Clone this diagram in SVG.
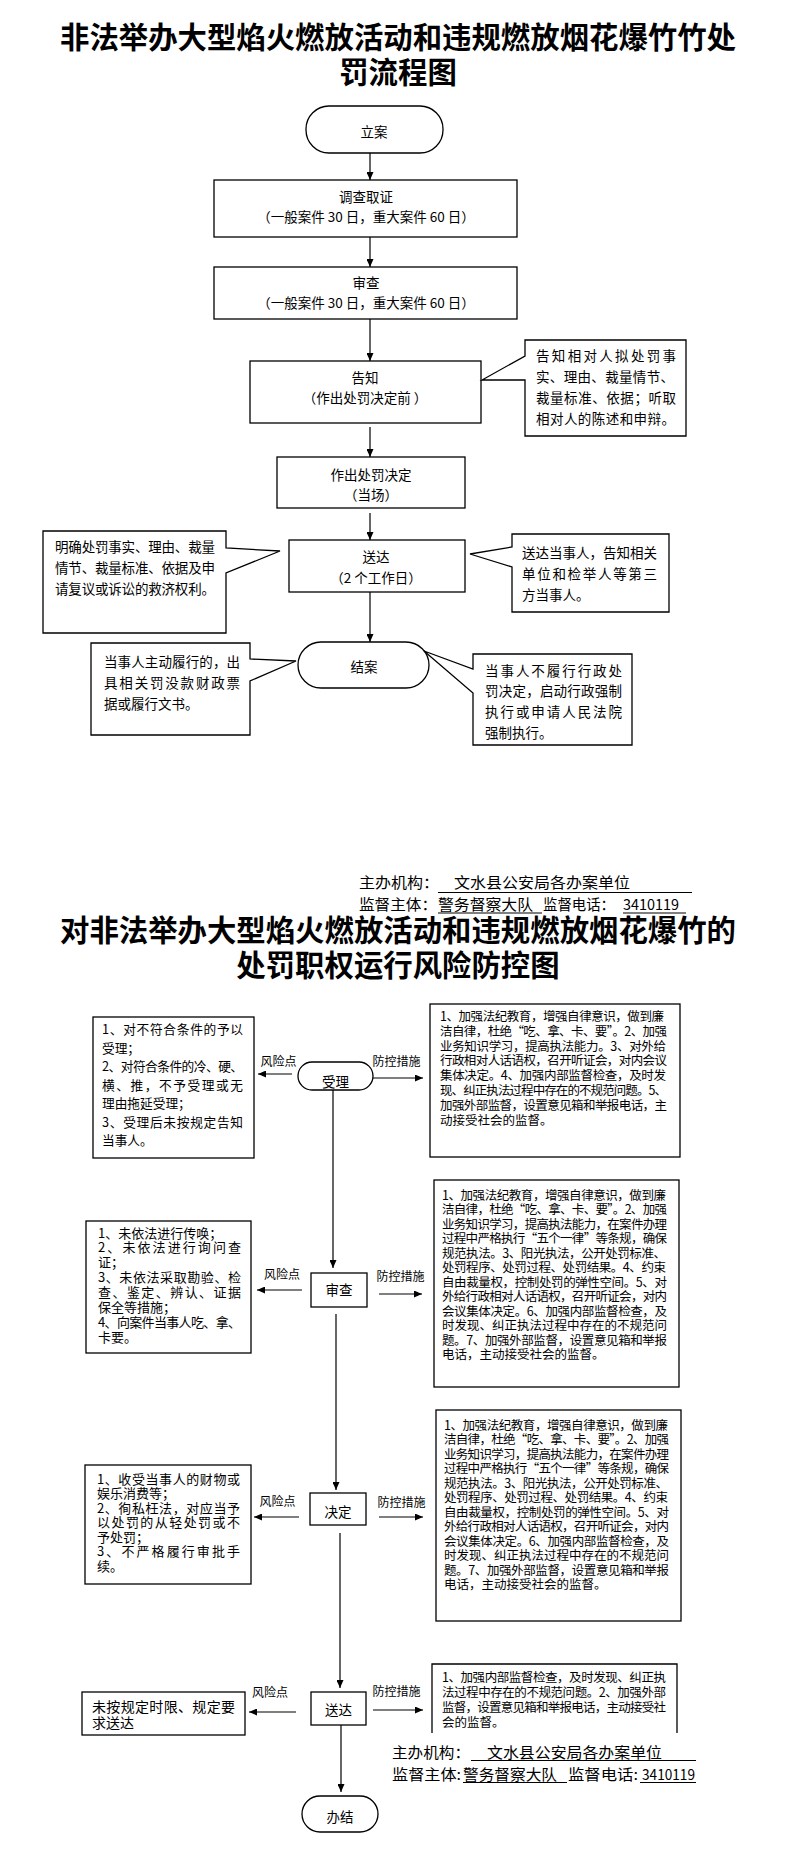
<svg xmlns="http://www.w3.org/2000/svg" width="793" height="1854" viewBox="0 0 793 1854">
<defs>
<style>
text{font-family:"Noto Sans CJK SC","Noto Sans",sans-serif;fill:#000}
.title{font-size:29.4px;font-weight:700;text-anchor:middle}
.m{font-size:13.5px;text-anchor:middle}
.c{font-size:13.5px}
.c2{font-size:12.7px}
.s{font-size:12.5px}
.l13{font-size:13px}
.lbl{font-size:12px;text-anchor:middle}
.f{font-size:15px}
.box{fill:#fff;stroke:#000;stroke-width:1.3}
.ln{stroke:#000;stroke-width:1.2;fill:none}
.ul{stroke:#000;stroke-width:1.2}
</style>
<marker id="ah" markerWidth="8" markerHeight="7" refX="8" refY="3.5" orient="auto" markerUnits="userSpaceOnUse">
<path d="M0,0 L8,3.5 L0,7 Z" fill="#000"/>
</marker>
</defs>
<rect width="793" height="1854" fill="#fff"/>

<g id="title1">
<text class="title" x="398" y="48">非法举办大型焰火燃放活动和违规燃放烟花爆竹竹处</text>
<text class="title" x="398" y="83">罚流程图</text>
</g>

<g id="connectors">
<line class="ln" x1="370" y1="153" x2="370" y2="180" marker-end="url(#ah)"/>
<line class="ln" x1="370" y1="237" x2="370" y2="267" marker-end="url(#ah)"/>
<line class="ln" x1="370" y1="319" x2="370" y2="361" marker-end="url(#ah)"/>
<line class="ln" x1="370" y1="427" x2="370" y2="457" marker-end="url(#ah)"/>
<line class="ln" x1="370" y1="513" x2="370" y2="540" marker-end="url(#ah)"/>
<line class="ln" x1="370" y1="592" x2="370" y2="642" marker-end="url(#ah)"/>

<line class="ln" x1="333" y1="1090" x2="333" y2="1268" marker-end="url(#ah)"/>
<line class="ln" x1="336" y1="1314" x2="336" y2="1490" marker-end="url(#ah)"/>
<line class="ln" x1="340" y1="1533" x2="340" y2="1688" marker-end="url(#ah)"/>
<line class="ln" x1="341" y1="1725" x2="341" y2="1792" marker-end="url(#ah)"/>

<line class="ln" x1="292" y1="1074" x2="258" y2="1074" marker-end="url(#ah)"/>
<line class="ln" x1="373" y1="1078" x2="423" y2="1078" marker-end="url(#ah)"/>
<line class="ln" x1="302" y1="1290" x2="257" y2="1290" marker-end="url(#ah)"/>
<line class="ln" x1="379" y1="1294" x2="422" y2="1294" marker-end="url(#ah)"/>
<line class="ln" x1="299" y1="1517" x2="254" y2="1517" marker-end="url(#ah)"/>
<line class="ln" x1="379" y1="1517" x2="423" y2="1517" marker-end="url(#ah)"/>
<line class="ln" x1="296" y1="1712" x2="249" y2="1712" marker-end="url(#ah)"/>
<line class="ln" x1="373" y1="1710" x2="423" y2="1710" marker-end="url(#ah)"/>
</g>

<g id="n-lian">
<rect class="box" x="306" y="106" width="137" height="47" rx="23" ry="23"/>
<text class="m" x="374" y="137">立案</text>
</g>
<g id="n-diaocha">
<rect class="box" x="214" y="180" width="303" height="57"/>
<text class="m" x="366" y="202">调查取证</text>
<text class="m" x="366" y="222">（一般案件 30 日，重大案件 60 日）</text>
</g>
<g id="n-shencha1">
<rect class="box" x="214" y="267" width="303" height="52"/>
<text class="m" x="366" y="288">审查</text>
<text class="m" x="366" y="308">（一般案件 30 日，重大案件 60 日）</text>
</g>
<g id="n-gaozhi">
<rect class="box" x="250" y="361" width="231" height="62"/>
<text class="m" x="365" y="383">告知</text>
<text class="m" x="365" y="403">（作出处罚决定前 ）</text>
</g>
<g id="c-gaozhi">
<path class="box" d="M525,340 H686 V436 H525 V380 L482,380 L525,356 Z"/>
<text class="c" x="536" y="361" textLength="140" lengthAdjust="spacing">告知相对人拟处罚事</text>
<text class="c" x="536" y="382" textLength="138" lengthAdjust="spacing">实、理由、裁量情节、</text>
<text class="c" x="536" y="403" textLength="140" lengthAdjust="spacing">裁量标准、依据；听取</text>
<text class="c" x="536" y="424" textLength="139" lengthAdjust="spacing">相对人的陈述和申辩。</text>
</g>
<g id="n-zuochu">
<rect class="box" x="277" y="457" width="188" height="51"/>
<text class="m" x="371" y="480">作出处罚决定</text>
<text class="m" x="371" y="500">（当场）</text>
</g>
<g id="n-songda1">
<rect class="box" x="289" y="540" width="176" height="52"/>
<text class="m" x="376" y="562">送达</text>
<text class="m" x="376" y="583">（2 个工作日）</text>
</g>
<g id="c-songda-left">
<path class="box" d="M43,531 H226 V548 L280,551 L226,573 V633 H43 Z"/>
<text class="c" x="55" y="552" textLength="160" lengthAdjust="spacing">明确处罚事实、理由、裁量</text>
<text class="c" x="55" y="573" textLength="160" lengthAdjust="spacing">情节、裁量标准、依据及申</text>
<text class="c" x="55" y="594" textLength="160" lengthAdjust="spacing">请复议或诉讼的救济权利。</text>
</g>
<g id="c-songda-right">
<path class="box" d="M512,534 H669 V612 H512 V567 L470,554 L512,547 Z"/>
<text class="c" x="522" y="558" textLength="135" lengthAdjust="spacing">送达当事人，告知相关</text>
<text class="c" x="522" y="579" textLength="135" lengthAdjust="spacing">单位和检举人等第三</text>
<text class="c" x="522" y="600">方当事人。</text>
</g>
<g id="n-jiean">
<rect class="box" x="298" y="642" width="131" height="46" rx="23" ry="23"/>
<text class="m" x="364" y="672">结案</text>
</g>
<g id="c-jiean-left">
<path class="box" d="M91,643 H250 V659 L296,661 L250,681 V735 H91 Z"/>
<text class="c" x="104" y="667" textLength="136" lengthAdjust="spacing">当事人主动履行的，出</text>
<text class="c" x="104" y="688" textLength="136" lengthAdjust="spacing">具相关罚没款财政票</text>
<text class="c" x="104" y="709">据或履行文书。</text>
</g>
<g id="c-jiean-right">
<path class="box" d="M473,654 H632 V745 H473 V693 L424,651 L473,669 Z"/>
<text class="c" x="485" y="676" textLength="137" lengthAdjust="spacing">当事人不履行行政处</text>
<text class="c" x="485" y="696" textLength="137" lengthAdjust="spacing">罚决定，启动行政强制</text>
<text class="c" x="485" y="717" textLength="137" lengthAdjust="spacing">执行或申请人民法院</text>
<text class="c" x="485" y="738">强制执行。</text>
</g>

<g id="footer1">
<text class="f" x="359" y="888" textLength="80" lengthAdjust="spacingAndGlyphs">主办机构：</text>
<text class="f" x="454" y="888" textLength="176" lengthAdjust="spacingAndGlyphs">文水县公安局各办案单位</text>
<line class="ul" x1="438" y1="892.5" x2="692" y2="892.5"/>
<text class="f" x="359" y="910" textLength="78" lengthAdjust="spacingAndGlyphs">监督主体：</text>
<text class="f" x="438" y="910" textLength="95" lengthAdjust="spacingAndGlyphs">警务督察大队</text>
<line class="ul" x1="438" y1="913" x2="542" y2="913"/>
<text class="f" x="543" y="910" textLength="72" lengthAdjust="spacingAndGlyphs">监督电话：</text>
<text class="f" x="623" y="910" textLength="56" lengthAdjust="spacingAndGlyphs">3410119</text>
<line class="ul" x1="623" y1="913" x2="686" y2="913"/>
</g>

<g id="title2">
<text class="title" x="398" y="941">对非法举办大型焰火燃放活动和违规燃放烟花爆竹的</text>
<text class="title" x="398" y="976">处罚职权运行风险防控图</text>
</g>

<g id="n-shouli">
<rect class="box" x="298" y="1062" width="75" height="28" rx="14" ry="14"/>
<text class="m" x="335.5" y="1087">受理</text>
</g>
<g id="lbl-shouli">
<text class="lbl" x="278.5" y="1066">风险点</text>
<text class="lbl" x="396.5" y="1066">防控措施</text>
</g>
<g id="r-shouli">
<rect class="box" x="93" y="1017" width="161" height="141"/>
<text class="c2" x="102" y="1034" textLength="141" lengthAdjust="spacing">1、对不符合条件的予以</text>
<text class="c2" x="102" y="1052.5">受理；</text>
<text class="c2" x="102" y="1071" textLength="141" lengthAdjust="spacing">2、对符合条件的冷、硬、</text>
<text class="c2" x="102" y="1089.5" textLength="141" lengthAdjust="spacing">横、推，不予受理或无</text>
<text class="c2" x="102" y="1108">理由拖延受理；</text>
<text class="c2" x="102" y="1126.5" textLength="141" lengthAdjust="spacing">3、受理后未按规定告知</text>
<text class="c2" x="102" y="1145">当事人。</text>
</g>
<g id="p-shouli">
<rect class="box" x="430" y="1004" width="250" height="153"/>
<text class="s" x="440" y="1021" textLength="224" lengthAdjust="spacing">1、加强法纪教育，增强自律意识，做到廉</text>
<text class="s" x="440" y="1035.8" textLength="227" lengthAdjust="spacing">洁自律，杜绝“吃、拿、卡、要”。2、加强</text>
<text class="s" x="440" y="1050.6" textLength="226" lengthAdjust="spacing">业务知识学习，提高执法能力。3、对外给</text>
<text class="s" x="440" y="1065.4" textLength="227" lengthAdjust="spacing">行政相对人话语权，召开听证会，对内会议</text>
<text class="s" x="440" y="1080.2" textLength="226" lengthAdjust="spacing">集体决定。4、加强内部监督检查，及时发</text>
<text class="s" x="440" y="1095" textLength="227" lengthAdjust="spacing">现、纠正执法过程中存在的不规范问题。5、</text>
<text class="s" x="440" y="1109.8" textLength="227" lengthAdjust="spacing">加强外部监督，设置意见箱和举报电话，主</text>
<text class="s" x="440" y="1124.6">动接受社会的监督。</text>
</g>

<g id="n-shencha2">
<rect class="box" x="311" y="1273" width="56" height="34"/>
<text class="m" x="339" y="1295">审查</text>
</g>
<g id="lbl-shencha">
<text class="lbl" x="282" y="1279">风险点</text>
<text class="lbl" x="400.5" y="1281">防控措施</text>
</g>
<g id="r-shencha">
<rect class="box" x="86" y="1221" width="165" height="132"/>
<text class="l13" x="98" y="1237.5">1、未依法进行传唤；</text>
<text class="l13" x="98" y="1252.4" textLength="143" lengthAdjust="spacing">2、未依法进行询问查</text>
<text class="l13" x="98" y="1267.3">证；</text>
<text class="l13" x="98" y="1282.2" textLength="143" lengthAdjust="spacing">3、未依法采取勘验、检</text>
<text class="l13" x="98" y="1297.1" textLength="143" lengthAdjust="spacing">查、鉴定、辨认、证据</text>
<text class="l13" x="98" y="1312">保全等措施；</text>
<text class="l13" x="98" y="1326.9" textLength="143" lengthAdjust="spacing">4、向案件当事人吃、拿、</text>
<text class="l13" x="98" y="1341.8">卡要。</text>
</g>
<g id="p-shencha">
<rect class="box" x="434" y="1180" width="245" height="207"/>
<text class="s" x="442" y="1199.5" textLength="224" lengthAdjust="spacing">1、加强法纪教育，增强自律意识，做到廉</text>
<text class="s" x="442" y="1214" textLength="225" lengthAdjust="spacing">洁自律，杜绝“吃、拿、卡、要”。2、加强</text>
<text class="s" x="442" y="1228.5" textLength="225" lengthAdjust="spacing">业务知识学习，提高执法能力，在案件办理</text>
<text class="s" x="442" y="1243" textLength="225" lengthAdjust="spacing">过程中严格执行“五个一律”等条规，确保</text>
<text class="s" x="442" y="1257.5" textLength="224" lengthAdjust="spacing">规范执法。3、阳光执法，公开处罚标准、</text>
<text class="s" x="442" y="1272" textLength="224" lengthAdjust="spacing">处罚程序、处罚过程、处罚结果。4、约束</text>
<text class="s" x="442" y="1286.5" textLength="225" lengthAdjust="spacing">自由裁量权，控制处罚的弹性空间。5、对</text>
<text class="s" x="442" y="1301" textLength="225" lengthAdjust="spacing">外给行政相对人话语权，召开听证会，对内</text>
<text class="s" x="442" y="1315.5" textLength="225" lengthAdjust="spacing">会议集体决定。6、加强内部监督检查，及</text>
<text class="s" x="442" y="1330" textLength="225" lengthAdjust="spacing">时发现、纠正执法过程中存在的不规范问</text>
<text class="s" x="442" y="1344.5" textLength="225" lengthAdjust="spacing">题。7、加强外部监督，设置意见箱和举报</text>
<text class="s" x="442" y="1359">电话，主动接受社会的监督。</text>
</g>

<g id="n-jueding">
<rect class="box" x="310" y="1493" width="56" height="32"/>
<text class="m" x="338" y="1517">决定</text>
</g>
<g id="lbl-jueding">
<text class="lbl" x="277.5" y="1506">风险点</text>
<text class="lbl" x="401.5" y="1507">防控措施</text>
</g>
<g id="r-jueding">
<rect class="box" x="85" y="1465" width="166" height="119"/>
<text class="l13" x="97" y="1483.5" textLength="143" lengthAdjust="spacing">1、收受当事人的财物或</text>
<text class="l13" x="97" y="1498">娱乐消费等；</text>
<text class="l13" x="97" y="1512.5" textLength="143" lengthAdjust="spacing">2、徇私枉法，对应当予</text>
<text class="l13" x="97" y="1527" textLength="143" lengthAdjust="spacing">以处罚的从轻处罚或不</text>
<text class="l13" x="97" y="1541.5">予处罚；</text>
<text class="l13" x="97" y="1556" textLength="143" lengthAdjust="spacing">3、不严格履行审批手</text>
<text class="l13" x="97" y="1570.5">续。</text>
</g>
<g id="p-jueding">
<rect class="box" x="436" y="1410" width="245" height="211"/>
<text class="s" x="444" y="1429.5" textLength="224" lengthAdjust="spacing">1、加强法纪教育，增强自律意识，做到廉</text>
<text class="s" x="444" y="1444" textLength="225" lengthAdjust="spacing">洁自律，杜绝“吃、拿、卡、要”。2、加强</text>
<text class="s" x="444" y="1458.5" textLength="225" lengthAdjust="spacing">业务知识学习，提高执法能力，在案件办理</text>
<text class="s" x="444" y="1473" textLength="225" lengthAdjust="spacing">过程中严格执行“五个一律”等条规，确保</text>
<text class="s" x="444" y="1487.5" textLength="224" lengthAdjust="spacing">规范执法。3、阳光执法，公开处罚标准、</text>
<text class="s" x="444" y="1502" textLength="224" lengthAdjust="spacing">处罚程序、处罚过程、处罚结果。4、约束</text>
<text class="s" x="444" y="1516.5" textLength="225" lengthAdjust="spacing">自由裁量权，控制处罚的弹性空间。5、对</text>
<text class="s" x="444" y="1531" textLength="225" lengthAdjust="spacing">外给行政相对人话语权，召开听证会，对内</text>
<text class="s" x="444" y="1545.5" textLength="225" lengthAdjust="spacing">会议集体决定。6、加强内部监督检查，及</text>
<text class="s" x="444" y="1560" textLength="225" lengthAdjust="spacing">时发现、纠正执法过程中存在的不规范问</text>
<text class="s" x="444" y="1574.5" textLength="225" lengthAdjust="spacing">题。7、加强外部监督，设置意见箱和举报</text>
<text class="s" x="444" y="1589">电话，主动接受社会的监督。</text>
</g>

<g id="n-songda2">
<rect class="box" x="311" y="1692" width="55" height="33"/>
<text class="m" x="338.5" y="1715">送达</text>
</g>
<g id="lbl-songda">
<text class="lbl" x="270" y="1697">风险点</text>
<text class="lbl" x="396.5" y="1696">防控措施</text>
</g>
<g id="r-songda">
<rect class="box" x="82" y="1692" width="163" height="43"/>
<text style="font-size:14px" x="92" y="1712" textLength="143" lengthAdjust="spacing">未按规定时限、规定要</text>
<text style="font-size:14px" x="92" y="1728">求送达</text>
</g>
<g id="p-songda">
<path class="box" d="M432,1733 V1664 H677 V1733"/>
<text class="s" x="442" y="1681.5" textLength="224" lengthAdjust="spacing">1、加强内部监督检查，及时发现、纠正执</text>
<text class="s" x="442" y="1696.5" textLength="224" lengthAdjust="spacing">法过程中存在的不规范问题。2、加强外部</text>
<text class="s" x="442" y="1711.5" textLength="224" lengthAdjust="spacing">监督，设置意见箱和举报电话，主动接受社</text>
<text class="s" x="442" y="1726.5">会的监督。</text>
</g>

<g id="n-banjie">
<rect class="box" x="302" y="1796" width="76" height="36" rx="18" ry="18"/>
<text class="m" x="340" y="1822">办结</text>
</g>

<g id="footer2">
<text class="f" x="392" y="1758" textLength="78" lengthAdjust="spacingAndGlyphs">主办机构：</text>
<text class="f" x="487" y="1758" textLength="175" lengthAdjust="spacingAndGlyphs">文水县公安局各办案单位</text>
<line class="ul" x1="471" y1="1760.5" x2="696" y2="1760.5"/>
<text class="f" x="392" y="1780" textLength="69" lengthAdjust="spacingAndGlyphs">监督主体:</text>
<text class="f" x="463" y="1780" textLength="94" lengthAdjust="spacingAndGlyphs">警务督察大队</text>
<line class="ul" x1="463" y1="1782.5" x2="567" y2="1782.5"/>
<text class="f" x="568" y="1780" textLength="70" lengthAdjust="spacingAndGlyphs">监督电话:</text>
<text class="f" x="642" y="1780" textLength="53" lengthAdjust="spacingAndGlyphs">3410119</text>
<line class="ul" x1="640" y1="1782.5" x2="696" y2="1782.5"/>
</g>
</svg>
